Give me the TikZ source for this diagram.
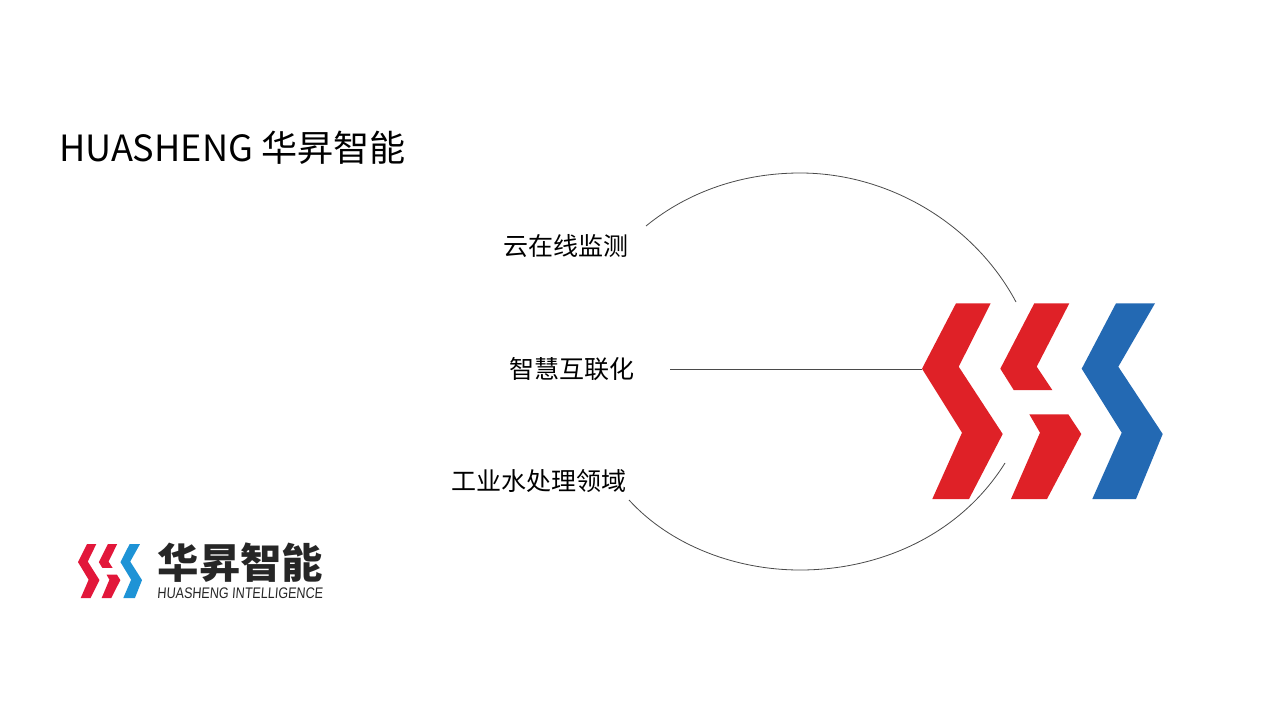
\documentclass[tikz,border=0pt]{standalone}
\usepackage{fontspec}
\setmainfont{Noto Sans CJK SC}
\newfontfamily\latinfont[FakeStretch=0.82,FakeSlant=0.08]{Liberation Sans}
\definecolor{markred}{HTML}{DF2127}
\definecolor{markblue}{HTML}{2369B3}
\definecolor{smallred}{HTML}{E2173A}
\definecolor{smallblue}{HTML}{1E93D6}
\definecolor{arcgrey}{HTML}{4A4A4A}
\newcommand{\hsmarks}[2]{
	\fill[#1] (956,303.3) -- (990.7,303.3) -- (958.7,366.7) -- (1002.7,434) -- (969,499) -- (932.3,499) -- (962,432.7) -- (922,368.7) -- cycle;
	\fill[#1] (1034.3,303.3) -- (1069.3,303.3) -- (1036.7,366.7) -- (1052.3,390) -- (1013.7,390) -- (1000.3,368.7) -- cycle;
	\fill[#1] (1029.3,414.3) -- (1068.3,414.3) -- (1081.3,434) -- (1047,499) -- (1011,499) -- (1040,432.7) -- cycle;
	\fill[#2] (1116,303.3) -- (1155,303.3) -- (1118.3,366.7) -- (1162.7,434) -- (1136,499) -- (1092.3,499) -- (1121.7,432.7) -- (1081.7,368.7) -- cycle;
}
\begin{document}
\begin{tikzpicture}[
	x=0.75pt,y=-0.75pt,
	label/.style={inner sep=0pt,font=\fontsize{18.75}{22}\selectfont},
	arc/.style={draw=arcgrey,line width=0.6pt}]
\useasboundingbox (0,0) rectangle (1280,720);
\node[anchor=west,inner sep=0pt,font=\fontsize{27.1}{32}\selectfont] (title) at (59,148) {HUASHENG 华昇智能};
\node[label] (cloud) at (565.5,246) {云在线监测};
\node[label] (smart) at (571.5,369) {智慧互联化};
\node[label] (water) at (539,481) {工业水处理领域};
\hsmarks{markred}{markblue}
\begin{scope}[shift={(78,544)},xscale=.266,yscale=.2755,shift={(-922,-303)}]
	\hsmarks{smallred}{smallblue}
\end{scope}
\node[inner sep=0pt,font=\fontsize{31}{36}\bfseries\selectfont,text=black!85] (brand) at (240.5,563) {华昇智能};
\node[inner sep=0pt,font=\latinfont\fontsize{11.5}{13}\selectfont,text=black!85] (brandlatin) at (240,593) {HUASHENG INTELLIGENCE};
\coordinate (topstart) at (646,226);
\coordinate (topmid) at (800,173);
\coordinate (topend) at (1016,302);
\coordinate (lowstart) at (629,500);
\coordinate (lowmid) at (800,570);
\coordinate (lowend) at (1005,463);
\coordinate (linestart) at (670,369);
\coordinate (tip) at (922,369);
\draw[arc] (topstart) .. controls (690,190) and (745,173) .. (topmid) .. controls (890,173) and (975,225) .. (topend);
\draw[arc] (lowstart) .. controls (670,545) and (735,570) .. (lowmid) .. controls (880,570) and (960,535) .. (lowend);
\draw[arc] (linestart) -- (tip);
\end{tikzpicture}
\end{document}
